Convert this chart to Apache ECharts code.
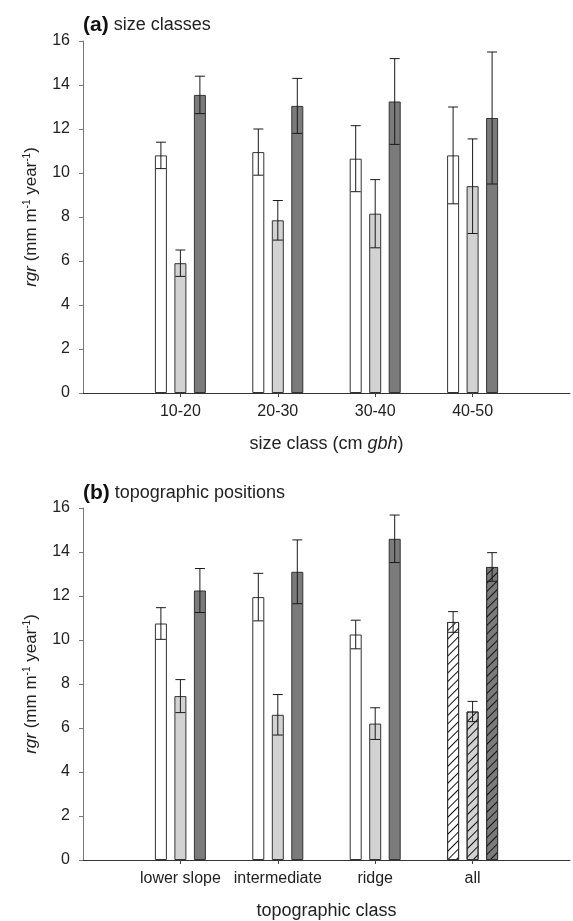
<!DOCTYPE html>
<html><head><meta charset="utf-8">
<script src="https://cdn.jsdelivr.net/npm/echarts@6/dist/echarts.min.js"></script>
<style>html,body{margin:0;padding:0;background:#fff}#c{width:573px;height:921px}</style>
</head><body><div id="c"></div>
<script>
// ---- data ----
const sizeClasses = ['10-20', '20-30', '30-40', '40-50'];
const sizeWhite = [10.8, 10.95, 10.65, 10.8];
const sizeWhiteErr = [0.6, 1.05, 1.5, 2.2];
const sizeGrey = [5.9, 7.85, 8.15, 9.4];
const sizeGreyErr = [0.6, 0.9, 1.55, 2.15];
const sizeDark = [13.55, 13.05, 13.25, 12.5];
const sizeDarkErr = [0.85, 1.25, 1.95, 3.0];

const topoClasses = ['lower slope', 'intermediate', 'ridge', 'all'];
const topoWhite = [10.75, 11.95, 10.25, 10.82];
const topoWhiteErr = [0.72, 1.08, 0.65, 0.47];
const topoGrey = [7.45, 6.6, 6.2, 6.75];
const topoGreyErr = [0.75, 0.92, 0.72, 0.46];
const topoDark = [12.25, 13.1, 14.6, 13.32];
const topoDarkErr = [1.0, 1.45, 1.08, 0.65];

const yMin = 0, yMax = 16, yStep = 2;
const hatchedCategory = 'all';

// ---- styling ----
const FONT = 'Liberation Sans, Arial, Helvetica, sans-serif';
const BAR_W = 12, BAR_GAP_PX = 7.5;
const fills = ['#ffffff', '#d2d2d2', '#7b7b7b'];
const hatch = {symbol: 'rect', symbolSize: 1, dashArrayX: [1, 0], dashArrayY: [1, 5], rotation: -Math.PI / 4, color: '#111'};

function padCats(c) { return [''].concat(c, ['']); }
function barData(vals, cats) {
  return ['-'].concat(vals.map((v, i) => cats[i] === hatchedCategory ? {value: v, itemStyle: {decal: hatch}} : v), ['-']);
}
function errData(series) {
  const out = [];
  series.forEach((s, k) => s.vals.forEach((v, i) => out.push([i + 1, v, s.errs[i], k])));
  return out;
}
function renderErr(params, api) {
  const x = api.value(0), m = api.value(1), e = api.value(2), k = api.value(3);
  const hi = api.coord([x, m + e]), lo = api.coord([x, m - e]);
  const cx = hi[0] + (k - 1) * (BAR_W + BAR_GAP_PX);
  const hw = 5, st = {stroke: '#1a1a1a', lineWidth: 1};
  return {type: 'group', children: [
    {type: 'line', shape: {x1: cx, y1: hi[1], x2: cx, y2: lo[1]}, style: st},
    {type: 'line', shape: {x1: cx - hw, y1: hi[1], x2: cx + hw, y2: hi[1]}, style: st},
    {type: 'line', shape: {x1: cx - hw, y1: lo[1], x2: cx + hw, y2: lo[1]}, style: st}
  ]};
}

const yName = '{i|rgr} (mm m{s|-1} year{s|-1})';
const yNameRich = {
  i: {fontStyle: 'italic', fontSize: 17, fontFamily: FONT, color: '#222'},
  s: {fontSize: 10, fontFamily: FONT, color: '#222', verticalAlign: 'top', padding: [0, 0, 9, 0]}
};

function xAxisCfg(idx, cats, name, rich) {
  return {
    gridIndex: idx, type: 'category', data: padCats(cats), boundaryGap: false,
    axisLine: {lineStyle: {color: '#333', width: 1}},
    axisTick: {show: true, length: 4, interval: (i, v) => v !== '', lineStyle: {color: '#444'}},
    axisLabel: {interval: 0, fontSize: 16, color: '#222', fontFamily: FONT, margin: 11},
    name: name, nameLocation: 'middle', nameGap: 42,
    nameTextStyle: {fontSize: 18, color: '#222', fontFamily: FONT, rich: rich},
    splitLine: {show: false}
  };
}
function yAxisCfg(idx) {
  return {
    gridIndex: idx, type: 'value', min: yMin, max: yMax, interval: yStep,
    axisLine: {show: true, lineStyle: {color: '#777', width: 1}},
    axisTick: {show: true, length: 4, lineStyle: {color: '#777'}},
    axisLabel: {fontSize: 16, color: '#222', fontFamily: FONT, margin: 13},
    splitLine: {show: false},
    name: yName, nameLocation: 'middle', nameRotate: 90, nameGap: 42,
    nameTextStyle: {fontSize: 17, color: '#222', fontFamily: FONT, rich: yNameRich}
  };
}
function barSeries(idx, vals, cats, k) {
  return {
    type: 'bar', xAxisIndex: idx, yAxisIndex: idx, data: barData(vals, cats),
    barWidth: BAR_W, barGap: (BAR_GAP_PX / BAR_W * 100) + '%',
    itemStyle: {color: fills[k], borderColor: '#333', borderWidth: 1},
    silent: true, animation: false
  };
}

const titleRich = {
  b: {fontSize: 21, fontWeight: 'bold', fontFamily: FONT, color: '#111'},
  n: {fontSize: 18, fontWeight: 'normal', fontFamily: FONT, color: '#222'}
};

const chart = echarts.init(document.getElementById('c'), null, {renderer: 'canvas'});
chart.setOption({
  backgroundColor: '#fff',
  animation: false,
  title: [
    {text: '{b|(a)} {n|size classes}', left: 78, top: 10, textStyle: {fontWeight: 'normal', rich: titleRich}},
    {text: '{b|(b)} {n|topographic positions}', left: 78, top: 478, textStyle: {fontWeight: 'normal', rich: titleRich}}
  ],
  grid: [
    {left: 83, right: 3, top: 41, height: 352},
    {left: 83, right: 3, top: 508, height: 352}
  ],
  xAxis: [
    xAxisCfg(0, sizeClasses, 'size class (cm {i|gbh})', {i: {fontStyle: 'italic', fontSize: 18, fontFamily: FONT, color: '#222'}}),
    xAxisCfg(1, topoClasses, 'topographic class', {})
  ],
  yAxis: [yAxisCfg(0), yAxisCfg(1)],
  series: [
    barSeries(0, sizeWhite, sizeClasses, 0),
    barSeries(0, sizeGrey, sizeClasses, 1),
    barSeries(0, sizeDark, sizeClasses, 2),
    {type: 'custom', xAxisIndex: 0, yAxisIndex: 0, renderItem: renderErr, z: 5, silent: true,
     data: errData([{vals: sizeWhite, errs: sizeWhiteErr}, {vals: sizeGrey, errs: sizeGreyErr}, {vals: sizeDark, errs: sizeDarkErr}])},
    barSeries(1, topoWhite, topoClasses, 0),
    barSeries(1, topoGrey, topoClasses, 1),
    barSeries(1, topoDark, topoClasses, 2),
    {type: 'custom', xAxisIndex: 1, yAxisIndex: 1, renderItem: renderErr, z: 5, silent: true,
     data: errData([{vals: topoWhite, errs: topoWhiteErr}, {vals: topoGrey, errs: topoGreyErr}, {vals: topoDark, errs: topoDarkErr}])}
  ]
});
</script>
</body></html>
